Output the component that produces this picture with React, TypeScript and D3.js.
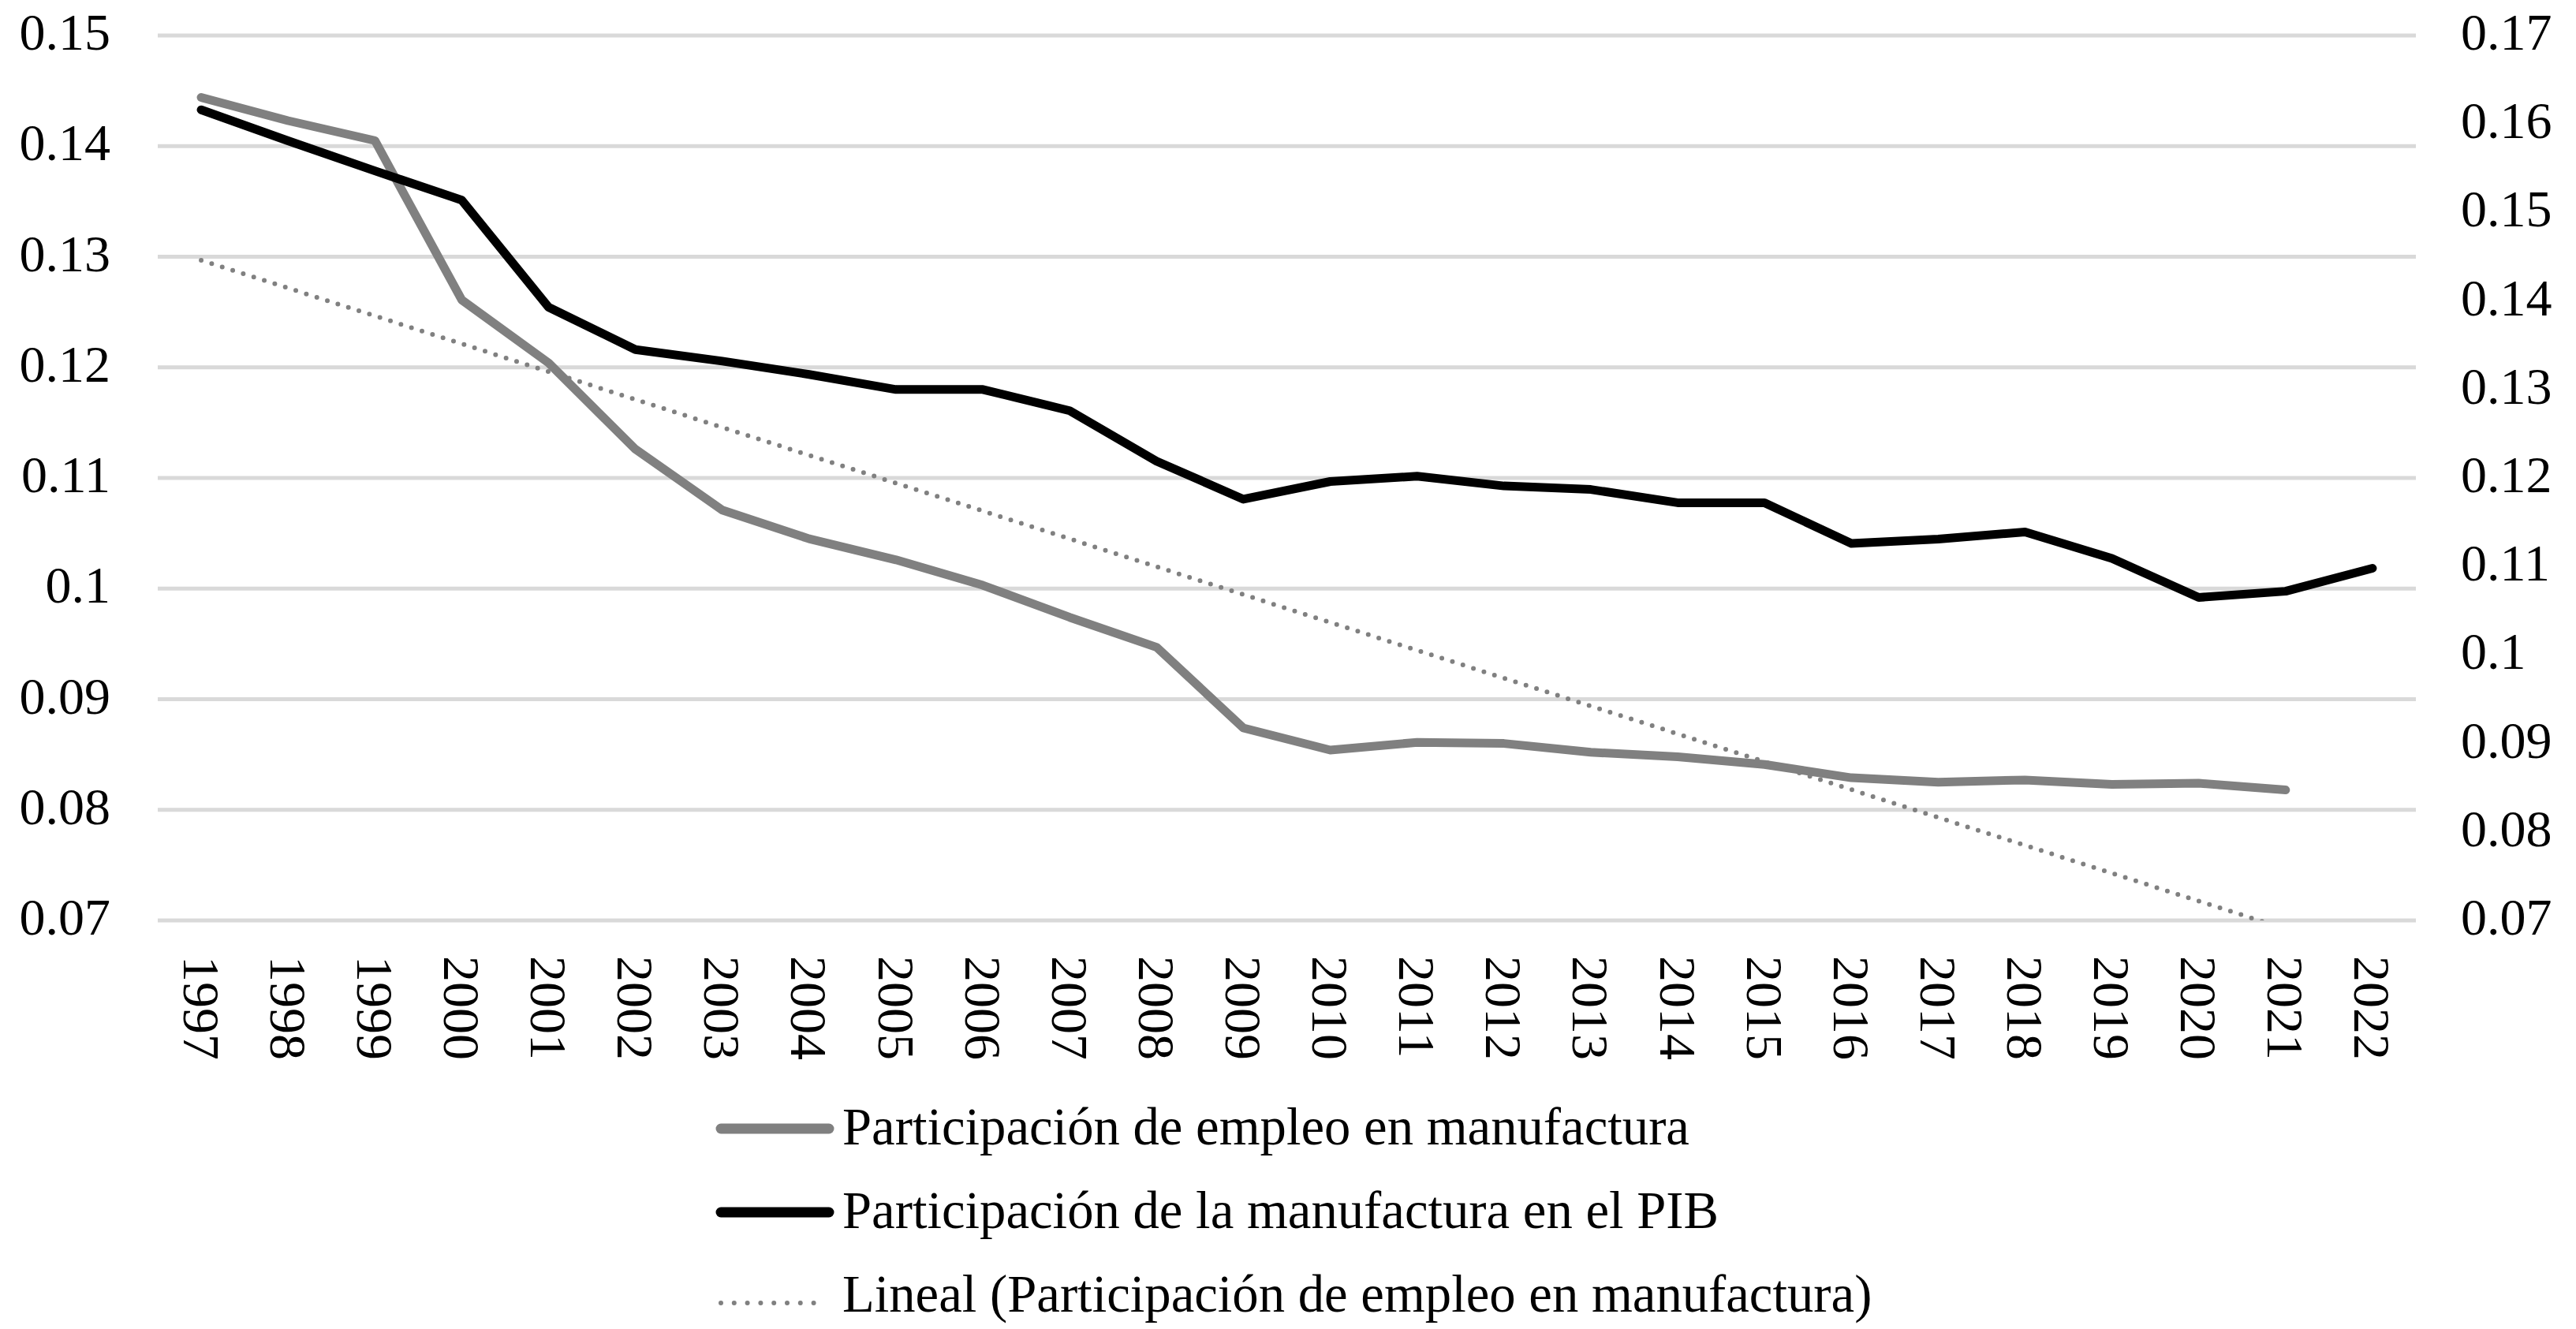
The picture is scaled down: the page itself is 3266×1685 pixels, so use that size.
import React, { useEffect, useRef } from 'react';
import * as d3 from 'd3';

const years = [
  '1997', '1998', '1999', '2000', '2001', '2002', '2003', '2004', '2005',
  '2006', '2007', '2008', '2009', '2010', '2011', '2012', '2013', '2014',
  '2015', '2016', '2017', '2018', '2019', '2020', '2021', '2022'
];

// Participación de empleo en manufactura (eje izquierdo), sin dato 2022
const empleo = [
  0.1444, 0.1423, 0.1405, 0.1261, 0.1204, 0.1126, 0.1071, 0.1045, 0.1026,
  0.1003, 0.0974, 0.0947, 0.0874, 0.0854, 0.0861, 0.086, 0.0852, 0.0848,
  0.0841, 0.0829, 0.0825, 0.0827, 0.0823, 0.0824, 0.0818
];

// Participación de la manufactura en el PIB (eje derecho)
const pib = [
  0.1616, 0.1581, 0.1547, 0.1514, 0.1393, 0.1345, 0.1332, 0.1317, 0.13,
  0.13, 0.1276, 0.1219, 0.1176, 0.1196, 0.1202, 0.1191, 0.1187, 0.1172,
  0.1172, 0.1126, 0.1131, 0.1139, 0.1109, 0.1065, 0.1072, 0.1098
];

const leftTicks = [0.07, 0.08, 0.09, 0.1, 0.11, 0.12, 0.13, 0.14, 0.15];
const rightTicks = [0.07, 0.08, 0.09, 0.1, 0.11, 0.12, 0.13, 0.14, 0.15, 0.16, 0.17];

const legendLabels = [
  'Participación de empleo en manufactura',
  'Participación de la manufactura en el PIB',
  'Lineal (Participación de empleo en manufactura)'
];

const W = 3266;
const H = 1685;
const FONT = '"Liberation Serif", "Times New Roman", serif';
const GRAY = '#808080';

const App: React.FC = () => {
  const svgRef = useRef<SVGSVGElement>(null);

  useEffect(() => {
    if (!svgRef.current) return;
    const root = d3.select(svgRef.current);
    root.selectAll('*').remove();

    const plot = { left: 200, right: 3063, top: 45, bottom: 1167 };

    const x = d3.scaleBand<string>().domain(years).range([plot.left, plot.right]);
    const cx = (i: number) => (x(years[i]) as number) + x.bandwidth() / 2;

    const yL = d3.scaleLinear().domain([0.07, 0.15]).range([plot.bottom, plot.top]);
    const yR = d3.scaleLinear().domain([0.07, 0.17]).range([plot.bottom, plot.top]);

    root.append('defs')
      .append('clipPath')
      .attr('id', 'plotClip')
      .append('rect')
      .attr('x', plot.left)
      .attr('y', plot.top)
      .attr('width', plot.right - plot.left)
      .attr('height', plot.bottom - plot.top);

    // gridlines
    root.append('g')
      .selectAll('line')
      .data(leftTicks)
      .join('line')
      .attr('x1', plot.left)
      .attr('x2', plot.right)
      .attr('y1', d => yL(d))
      .attr('y2', d => yL(d))
      .attr('stroke', '#d9d9d9')
      .attr('stroke-width', 5);

    // left axis labels
    root.append('g')
      .selectAll('text')
      .data(leftTicks)
      .join('text')
      .attr('x', 140)
      .attr('y', d => yL(d) + 18)
      .attr('text-anchor', 'end')
      .attr('font-family', FONT)
      .attr('font-size', 66)
      .attr('fill', '#000')
      .text(d => String(d));

    // right axis labels
    root.append('g')
      .selectAll('text')
      .data(rightTicks)
      .join('text')
      .attr('x', 3120)
      .attr('y', d => yR(d) + 18)
      .attr('text-anchor', 'start')
      .attr('font-family', FONT)
      .attr('font-size', 66)
      .attr('fill', '#000')
      .text(d => String(d));

    // x labels, rotated
    root.append('g')
      .selectAll('text')
      .data(years)
      .join('text')
      .attr('transform', (_d, i) => `translate(${cx(i)},1212) rotate(90)`)
      .attr('dy', '0.34em')
      .attr('font-family', FONT)
      .attr('font-size', 66)
      .attr('fill', '#000')
      .text(d => d);

    // linear trend of empleo
    const n = empleo.length;
    const xs = d3.range(n);
    const mx = d3.mean(xs) as number;
    const my = d3.mean(empleo) as number;
    const slope =
      d3.sum(xs, i => (i - mx) * (empleo[i] - my)) / d3.sum(xs, i => (i - mx) * (i - mx));
    const intercept = my - slope * mx;

    root.append('line')
      .attr('clip-path', 'url(#plotClip)')
      .attr('x1', cx(0))
      .attr('y1', yL(intercept))
      .attr('x2', cx(n - 1))
      .attr('y2', yL(intercept + slope * (n - 1)))
      .attr('stroke', GRAY)
      .attr('stroke-width', 6)
      .attr('stroke-linecap', 'round')
      .attr('stroke-dasharray', '0 14');

    const lineL = d3.line<number>().x((_d, i) => cx(i)).y(d => yL(d));
    const lineR = d3.line<number>().x((_d, i) => cx(i)).y(d => yR(d));

    root.append('path')
      .datum(empleo)
      .attr('fill', 'none')
      .attr('stroke', GRAY)
      .attr('stroke-width', 11)
      .attr('stroke-linejoin', 'round')
      .attr('stroke-linecap', 'round')
      .attr('d', lineL);

    root.append('path')
      .datum(pib)
      .attr('fill', 'none')
      .attr('stroke', '#000')
      .attr('stroke-width', 11)
      .attr('stroke-linejoin', 'round')
      .attr('stroke-linecap', 'round')
      .attr('d', lineR);

    // legend
    const legendStyles = [
      { color: GRAY, width: 13, dash: null as string | null, off: -20 },
      { color: '#000', width: 13, dash: null as string | null, off: -20 },
      { color: GRAY, width: 6, dash: '0 16.8', off: -11 }
    ];
    const leg = root.append('g');
    legendLabels.forEach((label, i) => {
      const base = 1451 + i * 106;
      const st = legendStyles[i];
      const ln = leg.append('line')
        .attr('x1', 914)
        .attr('x2', st.dash ? 1045 : 1051)
        .attr('y1', base + st.off)
        .attr('y2', base + st.off)
        .attr('stroke', st.color)
        .attr('stroke-width', st.width)
        .attr('stroke-linecap', 'round');
      if (st.dash) ln.attr('stroke-dasharray', st.dash);
      leg.append('text')
        .attr('x', 1068)
        .attr('y', base)
        .attr('font-family', FONT)
        .attr('font-size', 66.7)
        .attr('fill', '#000')
        .text(label);
    });
  }, []);

  return (
    <svg
      ref={svgRef}
      width={W}
      height={H}
      style={{ position: 'absolute', left: 0, top: 0, background: '#fff' }}
    />
  );
};

export default App;
